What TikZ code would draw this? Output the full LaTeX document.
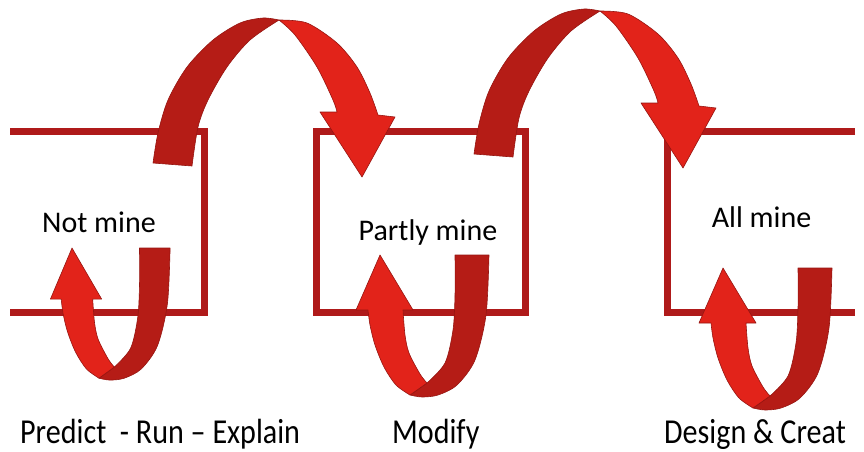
\documentclass[tikz,border=0pt]{standalone}
\usepackage{fontspec}
\setmainfont{Carlito}
\definecolor{wallred}{HTML}{AF1A1A}
\definecolor{frontred}{HTML}{E2231A}
\definecolor{backred}{HTML}{B51C16}
\definecolor{rimred}{HTML}{961511}

\begin{document}
\begin{tikzpicture}[x=1pt, y=-1pt,
  wall/.style={draw=wallred, line width=7pt, line join=miter},
  back/.style={fill=backred, draw=rimred, line width=.6pt, line join=round},
  front/.style={fill=frontred, draw=rimred, line width=.6pt, line join=round},
  mine/.style={font=\fontsize{30}{36}\selectfont, inner sep=0pt, anchor=base},
  task/.style={font=\fontsize{35}{42}\selectfont, xscale=.86, inner sep=0pt, anchor=base west},
  hop/.pic={
    \path[back] plot[smooth] coordinates {(0,0) (5,-30) (15,-63) (34,-96) (60,-123) (87,-140) (110,-145) (126,-143)}
      -- plot[smooth] coordinates {(126,-143) (97,-123) (74,-96) (55,-63) (45,-36) (39,3)} -- cycle;
    \path[front] plot[smooth] coordinates {(126,-143) (154,-140) (184,-120) (204,-96) (217,-70) (225,-48)}
      -- (242,-46) -- (209,14) -- (167,-51)
      -- plot[smooth] coordinates {(184,-51) (180,-63) (164,-96) (142,-128) (126,-143)} -- cycle;
  },
  twirl/.pic={
    \path[back] plot[smooth] coordinates {(30,140) (42,142) (58,140) (77,130) (95,105) (106,60) (109,0)}
      -- (75,0) -- plot[smooth] coordinates {(75,0) (75,40) (73,75) (65,108) (47,128)} -- cycle;
    \path[front] (0,0) -- (33,55)
      -- plot[smooth] coordinates {(23,55) (25,80) (29,98) (40,119) (47,128)}
      -- plot[smooth] coordinates {(30,140) (16,130) (4,112) (-5,90) (-10,70) (-12,55)}
      -- (-24,55) -- cycle;
  }]
  \useasboundingbox (0,0) rectangle (864,451);

  % the three stages
  \draw[wall] (10,131.5) -| (204,312) -- (10,312);
  \draw[wall] (316,131.5) rectangle (525.5,312);
  \draw[wall] (855,131.5) -| (667,312) -- (855,312);

  \node[mine] (notmine) at (99,232) {Not mine};
  \node[mine] (partly) at (428,240) {Partly mine};
  \node[mine] (allmine) at (761.5,227) {All mine};

  \node[task] (pre) at (20,443) {Predict\ \ - Run – Explain};
  \node[task] (mod) at (392,443) {Modify};
  \node[task] (des) at (664,443) {Design \& Creat};

  % ribbons over the top
  \pic at (153,163) {hop};
  \pic at (474,154) {hop};

  % loops underneath
  \pic[xscale=.9, yscale=.93] at (72,248) {twirl};
  \pic at (380,255) {twirl};
  \pic at (723,268) {twirl};
\end{tikzpicture}
\end{document}
